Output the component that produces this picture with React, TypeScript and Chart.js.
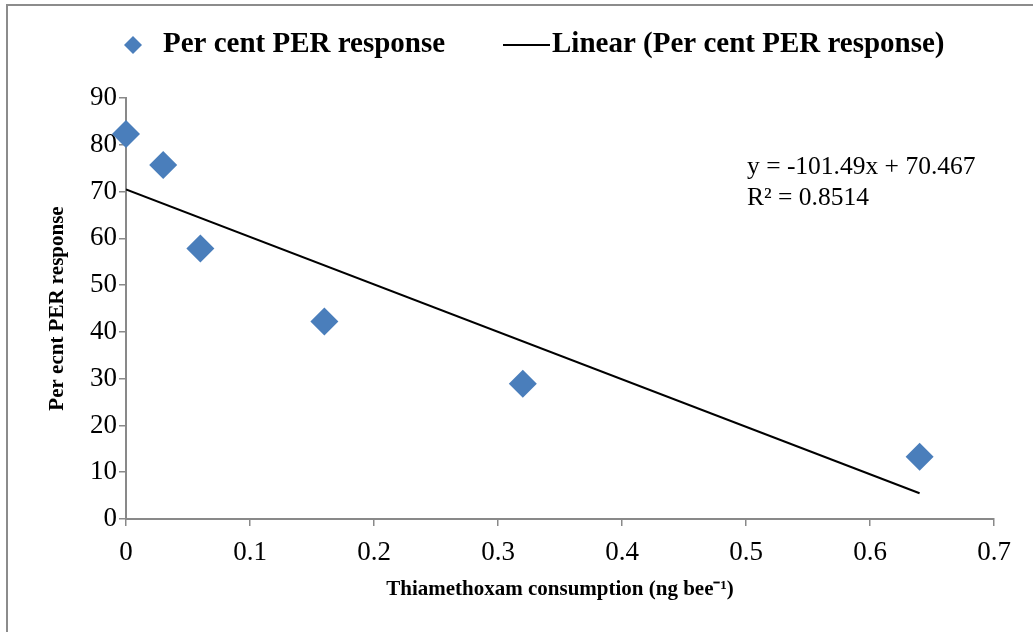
import React, { useEffect, useRef } from "react";
import { Chart, registerables } from "chart.js";

Chart.register(...registerables);

// ---- data ----
const consumption = [0, 0.03, 0.06, 0.16, 0.32, 0.64];
const perCentPER = [82.3, 75.7, 57.8, 42.2, 28.9, 13.3];
const trendSlope = -101.49;
const trendIntercept = 70.467;
const trendRange = [0, 0.64];
const rSquared = 0.8514;
const seriesLabel = "Per cent PER response";
const trendLabel = "Linear (Per cent PER response)";
const xTitle = "Thiamethoxam consumption (ng bee\u207B\u00B9)";
const yTitle = "Per ecnt PER response";

const SERIF = "'Liberation Serif', 'Times New Roman', serif";
const BLUE = "#4a7ebb";
const AXIS = "#898989";

const legendPlugin = {
  id: "customLegend",
  afterDraw(chart: any) {
    const ctx = chart.ctx;
    const y = 45;
    ctx.save();
    // diamond marker
    ctx.fillStyle = BLUE;
    ctx.beginPath();
    ctx.moveTo(133 - 9, y);
    ctx.lineTo(133, y - 9);
    ctx.lineTo(133 + 9, y);
    ctx.lineTo(133, y + 9);
    ctx.closePath();
    ctx.fill();
    ctx.font = `bold 29px ${SERIF}`;
    ctx.fillStyle = "#000";
    ctx.textBaseline = "middle";
    ctx.textAlign = "left";
    ctx.fillText(chart.data.datasets[0].label, 163, y);
    // line marker
    ctx.strokeStyle = "#000";
    ctx.lineWidth = 2;
    ctx.beginPath();
    ctx.moveTo(503, y);
    ctx.lineTo(550, y);
    ctx.stroke();
    ctx.fillText(chart.data.datasets[1].label, 552, y);
    ctx.restore();
  },
};

const equationPlugin = {
  id: "equation",
  afterDraw(chart: any) {
    const ctx = chart.ctx;
    ctx.save();
    ctx.font = `25.5px ${SERIF}`;
    ctx.fillStyle = "#000";
    ctx.textBaseline = "middle";
    ctx.textAlign = "left";
    const sign = trendIntercept >= 0 ? "+" : "-";
    ctx.fillText(`y = ${trendSlope}x ${sign} ${Math.abs(trendIntercept)}`, 747, 167);
    ctx.fillText(`R\u00B2 = ${rSquared}`, 747, 198);
    ctx.restore();
  },
};

export default function App() {
  const canvasRef = useRef<HTMLCanvasElement | null>(null);

  useEffect(() => {
    if (!canvasRef.current) return;
    const scatterData = consumption.map((x, i) => ({ x, y: perCentPER[i] }));
    const trendData = trendRange.map((x) => ({ x, y: trendSlope * x + trendIntercept }));
    const chart = new Chart(canvasRef.current, {
      type: "scatter",
      data: {
        datasets: [
          {
            label: seriesLabel,
            data: scatterData,
            pointStyle: "rectRot",
            pointRadius: 14,
            pointHoverRadius: 14,
            backgroundColor: BLUE,
            borderColor: BLUE,
            borderWidth: 0,
            clip: false,
            order: 1,
          } as any,
          {
            type: "line",
            label: trendLabel,
            data: trendData,
            borderColor: "#000",
            borderWidth: 2,
            pointRadius: 0,
            fill: false,
            tension: 0,
            order: 0,
          } as any,
        ],
      },
      options: {
        animation: false,
        responsive: false,
        maintainAspectRatio: false,
        layout: { padding: { top: 98, left: 40, right: 39, bottom: 20 } },
        plugins: {
          legend: { display: false },
          tooltip: { enabled: false },
        },
        scales: {
          x: {
            type: "linear",
            min: 0,
            max: 0.7,
            afterFit: (s: any) => {
              s.height = 93;
            },
            ticks: {
              stepSize: 0.1,
              color: "#000",
              font: { family: SERIF, size: 27 },
              padding: 11,
              callback: (v: any) => String(Number(Number(v).toFixed(1))),
            },
            grid: {
              display: true,
              drawOnChartArea: false,
              drawTicks: true,
              tickLength: 7,
              color: AXIS,
              lineWidth: 1.5,
            },
            border: { color: AXIS, width: 2 },
            title: {
              display: true,
              text: xTitle,
              color: "#000",
              font: { family: SERIF, size: 21, weight: "bold" },
              padding: { top: 0, bottom: 10 },
            },
          },
          y: {
            type: "linear",
            min: 0,
            max: 90,
            afterFit: (s: any) => {
              s.width = 86;
            },
            ticks: {
              stepSize: 10,
              color: "#000",
              font: { family: SERIF, size: 27 },
              padding: 2,
            },
            grid: {
              display: true,
              drawOnChartArea: false,
              drawTicks: true,
              tickLength: 7,
              color: AXIS,
              lineWidth: 1.5,
            },
            border: { color: AXIS, width: 2 },
            title: {
              display: true,
              text: yTitle,
              color: "#000",
              font: { family: SERIF, size: 21, weight: "bold" },
              padding: { top: 5, bottom: 0 },
            },
          },
        },
      },
      plugins: [legendPlugin, equationPlugin],
    });
    return () => chart.destroy();
  }, []);

  return (
    <div style={{ position: "absolute", left: 0, top: 0, width: 1033, height: 632, background: "#fff" }}>
      <canvas ref={canvasRef} width={1033} height={632} style={{ display: "block", width: 1033, height: 632 }} />
      <div
        style={{
          position: "absolute",
          left: 6,
          top: 4,
          width: 1040,
          height: 640,
          borderLeft: "2px solid #8c8c8c",
          borderTop: "2px solid #8c8c8c",
          pointerEvents: "none",
        }}
      />
    </div>
  );
}
